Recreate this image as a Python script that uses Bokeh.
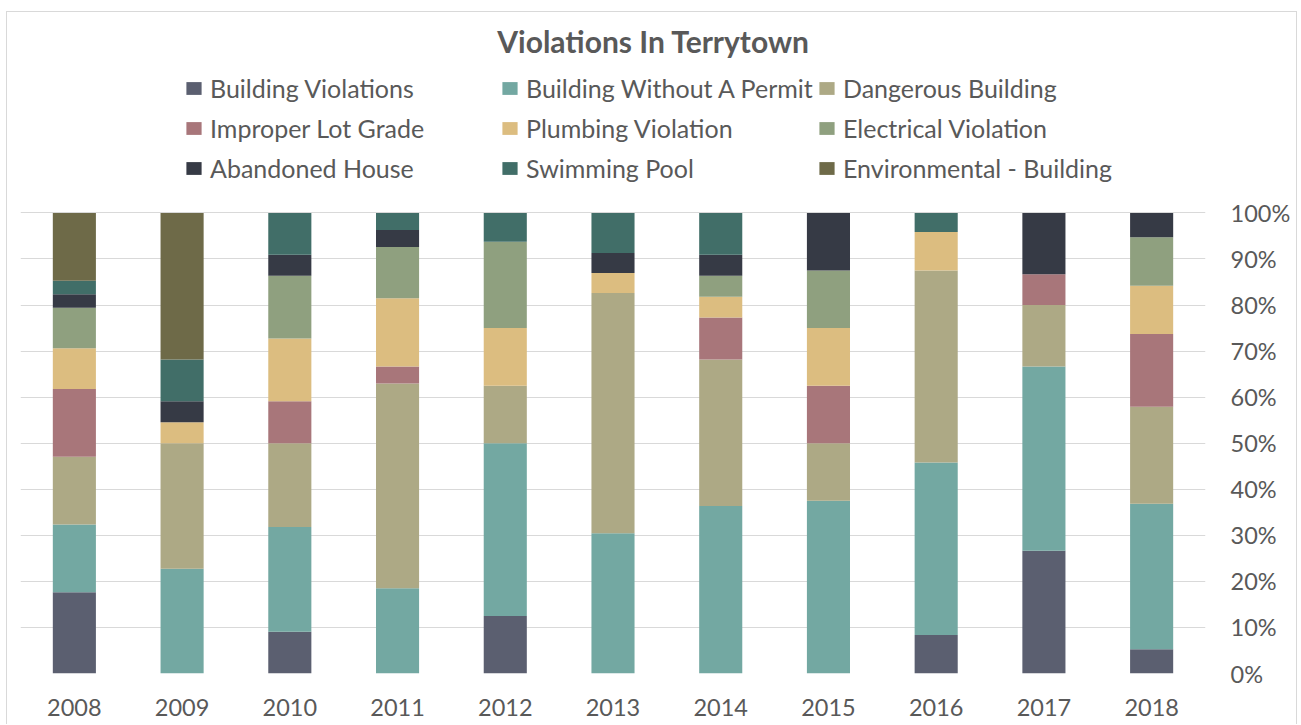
from bokeh.plotting import figure
from bokeh.models import (ColumnDataSource, Legend, LegendItem, FixedTicker,
                          NumeralTickFormatter, Label, Range1d)
from bokeh.embed import file_html
from bokeh.resources import INLINE
import numpy as np

years = ["2008", "2009", "2010", "2011", "2012", "2013", "2014", "2015", "2016", "2017", "2018"]
categories = ["Building Violations", "Building Without A Permit", "Dangerous Building",
              "Improper Lot Grade", "Plumbing Violation", "Electrical Violation",
              "Abandoned House", "Swimming Pool", "Environmental - Building"]

# counts of violations per year
building_violations = [6, 0, 2, 0, 2, 0, 0, 0, 2, 4, 1]
building_without_permit = [5, 5, 5, 5, 6, 7, 8, 3, 9, 6, 6]
dangerous_building = [5, 6, 4, 12, 2, 12, 7, 1, 10, 2, 4]
improper_lot_grade = [5, 0, 2, 1, 0, 0, 2, 1, 0, 1, 3]
plumbing_violation = [3, 1, 3, 4, 2, 1, 1, 1, 2, 0, 2]
electrical_violation = [3, 0, 3, 3, 3, 0, 1, 1, 0, 0, 2]
abandoned_house = [1, 1, 1, 1, 0, 1, 1, 1, 0, 2, 1]
swimming_pool = [1, 2, 2, 1, 1, 2, 2, 0, 1, 0, 0]
environmental_building = [5, 7, 0, 0, 0, 0, 0, 0, 0, 0, 0]

colors = ["#5b5f70", "#73a8a2", "#ada985", "#a8767a", "#dcbd80",
          "#8fa07f", "#363a45", "#416e68", "#6e6a48"]

pct_ticks = [0.0, 0.1, 0.2, 0.3, 0.4, 0.5, 0.6, 0.7, 0.8, 0.9, 1.0]

series = [building_violations, building_without_permit, dangerous_building,
          improper_lot_grade, plumbing_violation, electrical_violation,
          abandoned_house, swimming_pool, environmental_building]
counts = np.array(series, dtype=float)
totals = counts.sum(axis=0)
data = {"year": years}
for name, row in zip(categories, counts):
    data[name] = row / totals
source = ColumnDataSource(data)

TEXT = "#595959"
FONT = "Lato"

# frame: 661 px tall, 100% sits 460.6 px above the baseline; the space above
# 100% holds the title and legend
p = figure(x_range=years, y_range=Range1d(0, 661 / 460.6), width=1291, height=713,
           output_backend="svg", toolbar_location=None, y_axis_location="right",
           min_border_left=13, min_border_right=93, min_border_top=0, min_border_bottom=52)
p.styles = {"border": "1px solid #d9d9d9", "border-bottom": "none",
            "margin-top": "11px", "margin-left": "6px"}

renderers = p.vbar_stack(categories, x="year", width=0.4, color=colors,
                         source=source, line_color=None)

p.outline_line_color = None
p.xgrid.grid_line_color = None
p.ygrid.grid_line_color = "#d9d9d9"
p.ygrid.grid_line_width = 1

p.yaxis.ticker = FixedTicker(ticks=pct_ticks)
p.yaxis.formatter = NumeralTickFormatter(format="0%")
for ax in (p.xaxis[0], p.yaxis[0]):
    ax.axis_line_color = None
    ax.major_tick_line_color = None
    ax.minor_tick_line_color = None
    ax.major_tick_in = 0
    ax.major_tick_out = 0
    ax.major_label_text_font = FONT
    ax.major_label_text_font_size = "23.5px"
    ax.major_label_text_color = TEXT
p.yaxis.major_label_standoff = 25
p.xaxis.major_label_standoff = 25

title = Label(x=633, y=633, x_units="screen", y_units="screen",
              text="Violations In Terrytown", text_align="center", text_baseline="middle",
              text_font=FONT, text_font_size="30px", text_font_style="bold",
              text_color=TEXT)
p.add_layout(title)

col_x = [164, 480, 797]
for c in range(3):
    items = [LegendItem(label=categories[c + 3 * r], renderers=[renderers[c + 3 * r]])
             for r in range(3)]
    leg = Legend(items=items, location=(col_x[c], 490), orientation="vertical",
                 padding=0, margin=0, spacing=10, border_line_color=None,
                 background_fill_alpha=0, glyph_width=19, glyph_height=16,
                 label_standoff=7, label_text_font=FONT, label_text_font_size="25px",
                 label_text_color=TEXT)
    p.add_layout(leg, "center")

open("out.html", "w").write(file_html(p, INLINE))
